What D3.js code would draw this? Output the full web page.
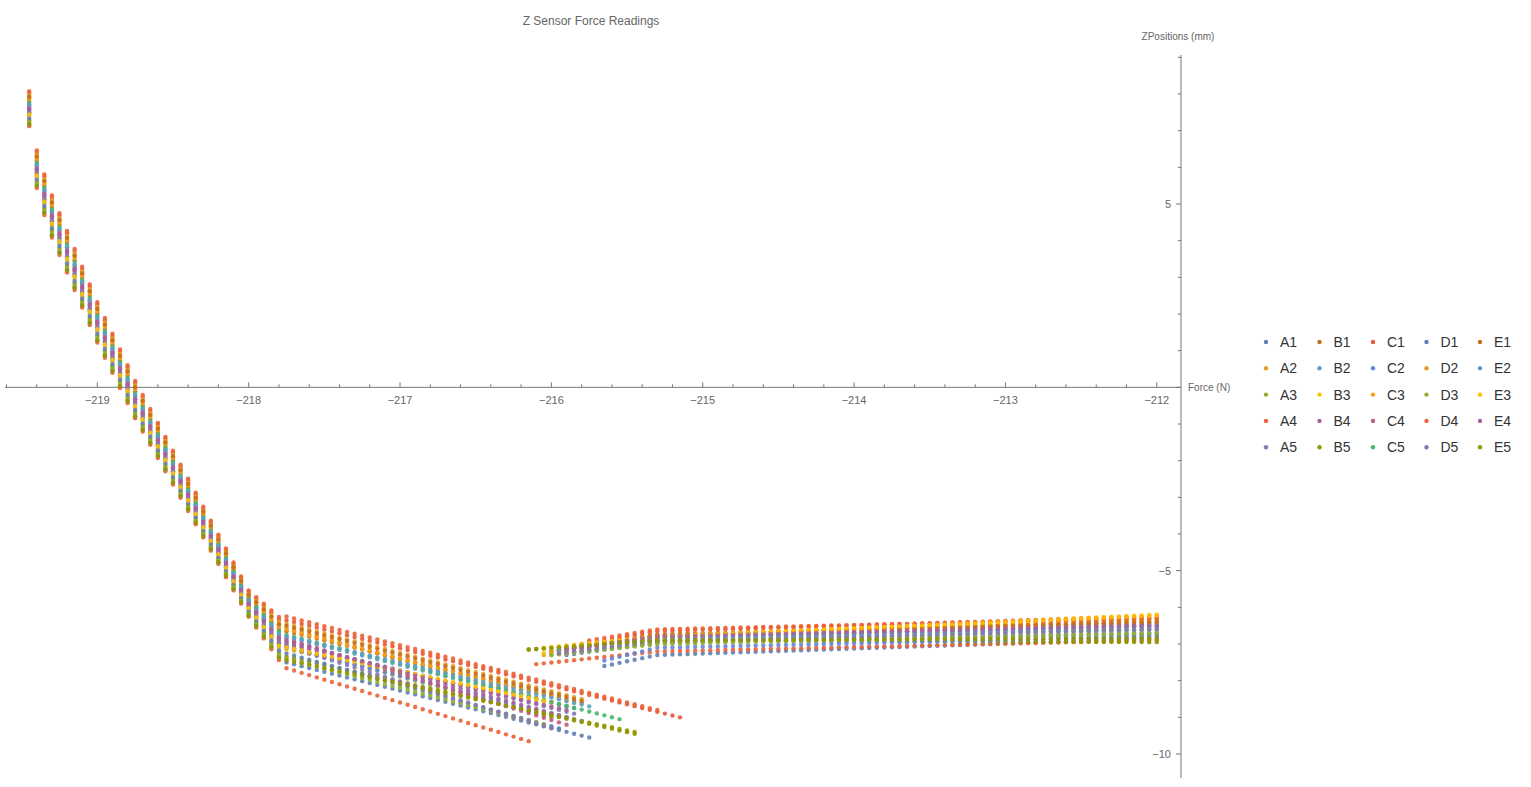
<!DOCTYPE html>
<html><head><meta charset="utf-8">
<script src="https://cdn.jsdelivr.net/npm/d3@7"></script>
<style>body{margin:0;background:#fff;font-family:"Liberation Sans",Arial,sans-serif}</style>
</head><body><svg id="c" width="1531" height="787"></svg>
<script>
const seriesNames = ["A1","A2","A3","A4","A5","B1","B2","B3","B4","B5","C1","C2","C3","C4","C5","D1","D2","D3","D4","D5","E1","E2","E3","E4","E5"];
const palette = ["#5E81B5","#E19C24","#8FB032","#EB6235","#8778B3","#C56E1A","#5D9EC7","#FFBF00","#A5609D","#929600","#E95536","#6685D9","#F89F13","#BC5B80","#47B66D"];
// steep branch envelope readings (force, z)
const steepTop = [[-219.45,8.13],[-219.4,6.52],[-219.35,5.87],[-219.3,5.3],[-219.0,2.38],[-218.75,0.23],[-218.0,-5.5],[-217.8,-6.2]];
const steepBottom = [[-219.45,7.07],[-219.4,5.38],[-219.35,4.64],[-219.3,4.02],[-219.0,1.16],[-218.75,-0.9],[-218.0,-6.3],[-217.8,-7.5]];
// per-series readings
const steepFrac = [.9,.2,.6,.95,.5,.3,.4,.7,.55,.8,.1,.65,.25,.45,.35,.75,.15,.85,.05,.6,.2,.4,.65,.5,.9];
const shallowStartZ = [-7.45,-6.5,-7.0,-7.6,-6.9,-6.6,-6.75,-7.1,-6.95,-7.3,-6.3,-7.05,-6.55,-6.8,-6.7,-7.2,-6.4,-7.35,-6.2,-7.0,-6.45,-6.75,-7.05,-6.85,-7.4];
const shallowEndF = [-215.75,-215.9,-216.0,-216.15,-215.85,-215.8,-215.85,-216.0,-215.9,-215.45,-215.15,-215.8,-215.85,-215.9,-215.55,-215.95,-215.8,-216.05,-215.3,-216.0,-215.8,-215.75,-216.05,-215.9,-215.45];
const shallowEndZ = [-9.55,-8.7,-9.0,-9.65,-8.9,-8.6,-8.75,-8.6,-8.8,-9.45,-9.0,-9.1,-8.6,-9.2,-9.05,-9.3,-8.5,-9.2,-8.8,-9.3,-8.55,-8.7,-8.55,-9.0,-9.4];
const rightStartF = [-215.65,-216.05,-216.0,-216.1,-216.0,-215.95,-215.95,-216.05,-215.9,-216.15,-215.8,-215.65,-216.0,-215.9,-215.85,-215.9,-216.0,-216.0,-215.75,-215.95,-215.95,-215.95,-216.05,-215.9,-216.15];
const rightStartZ = [-7.6,-7.3,-7.3,-7.55,-7.2,-7.2,-7.15,-7.25,-7.1,-7.15,-7.0,-7.45,-7.2,-7.15,-7.1,-7.3,-7.2,-7.3,-6.9,-7.25,-7.15,-7.15,-7.1,-7.15,-7.15];
const rightKneeZ = [-7.3,-7.0,-6.95,-7.2,-6.9,-6.8,-6.85,-6.8,-6.75,-6.9,-6.65,-7.1,-6.8,-6.8,-6.8,-6.95,-6.75,-7.0,-6.6,-6.9,-6.75,-6.85,-6.8,-6.8,-6.9];
const rightEndZ = [-6.85,-6.3,-6.6,-6.9,-6.7,-6.45,-6.55,-6.2,-6.4,-6.95,-6.25,-6.8,-6.3,-6.5,-6.6,-6.75,-6.35,-6.7,-6.3,-6.6,-6.4,-6.5,-6.22,-6.5,-6.85];
const xTicks = [-219,-218,-217,-216,-215,-214,-213,-212];
const yTicks = [5,-5,-10];
const step = 0.05;

const svg = d3.select("#c");
const x = d3.scaleLinear().domain([-219.61,-211.84]).range([5,1181]);
const y = d3.scaleLinear().domain([5,-10]).range([204,754]);
const grey = "#777";

function lerp(pts, f){
  for(let i=0;i<pts.length-1;i++){
    const a=pts[i],b=pts[i+1];
    if(f<=b[0]+1e-9){return a[1]+(b[1]-a[1])*(f-a[0])/(b[0]-a[0]);}
  }
  return pts[pts.length-1][1];
}
const data=[];
seriesNames.forEach((n,i)=>{
  const c=palette[i%15];
  for(let f=-219.45;f<=-217.8+1e-9;f+=step){
    const t=lerp(steepTop,f),b=lerp(steepBottom,f);
    data.push({f,z:t+steepFrac[i]*(b-t),c});
  }
  const sh=[[-217.8,shallowStartZ[i]],[shallowEndF[i],shallowEndZ[i]]];
  for(let f=-217.75;f<=shallowEndF[i]+1e-9;f+=step) data.push({f,z:lerp(sh,f),c});
  const rt=[[rightStartF[i],rightStartZ[i]],[-215.3,rightKneeZ[i]],[-212,rightEndZ[i]]];
  for(let f=rightStartF[i];f<=-212+1e-9;f+=step) data.push({f,z:lerp(rt,f),c});
});

// axes
svg.append("line").attr("x1",5).attr("x2",x(-211.84)).attr("y1",y(0)).attr("y2",y(0)).attr("stroke",grey);
svg.append("line").attr("x1",x(-211.84)).attr("x2",x(-211.84)).attr("y1",55).attr("y2",778).attr("stroke",grey);
d3.range(-219.6,-211.9,0.2).forEach(v=>{
  const major=Math.abs(v-Math.round(v))<1e-6;
  svg.append("line").attr("x1",x(v)).attr("x2",x(v)).attr("y1",y(0)).attr("y2",y(0)-(major?5:3)).attr("stroke",grey);
});
xTicks.forEach(v=>svg.append("text").attr("x",x(v)).attr("y",y(0)+17).attr("text-anchor","middle").attr("font-size",11).attr("fill","#666").text("\u2212"+Math.abs(v)));
d3.range(-10,10,1).forEach(v=>{
  if(y(v)<55||y(v)>778)return;
  const major=v%5===0;
  svg.append("line").attr("x1",x(-211.84)).attr("x2",x(-211.84)-(major?5:3)).attr("y1",y(v)).attr("y2",y(v)).attr("stroke",grey);
});
yTicks.forEach(v=>svg.append("text").attr("x",x(-211.84)-10).attr("y",y(v)+4).attr("text-anchor","end").attr("font-size",11).attr("fill","#666").text(v<0?"\u2212"+Math.abs(v):v));
svg.append("text").attr("x",1188).attr("y",y(0)+4).attr("font-size",10).attr("fill","#666").text("Force (N)");
svg.append("text").attr("x",1178).attr("y",40).attr("text-anchor","middle").attr("font-size",10).attr("fill","#666").text("ZPositions (mm)");
svg.append("text").attr("x",591).attr("y",25).attr("text-anchor","middle").attr("font-size",12).attr("fill","#666").text("Z Sensor Force Readings");

svg.append("g").selectAll("circle").data(data).join("circle")
  .attr("cx",d=>x(d.f)).attr("cy",d=>y(d.z)).attr("r",2.2).attr("fill",d=>d.c).attr("opacity",0.9);

// legend
const lg=svg.append("g");
seriesNames.forEach((n,i)=>{
  const col=Math.floor(i/5),row=i%5;
  const gx=1266+col*53.5, gy=342+row*26.3;
  lg.append("circle").attr("cx",gx).attr("cy",gy).attr("r",2.2).attr("fill",palette[i%15]);
  lg.append("text").attr("x",gx+14).attr("y",gy+5).attr("font-size",14).attr("fill","#333").text(n);
});
</script></body></html>
